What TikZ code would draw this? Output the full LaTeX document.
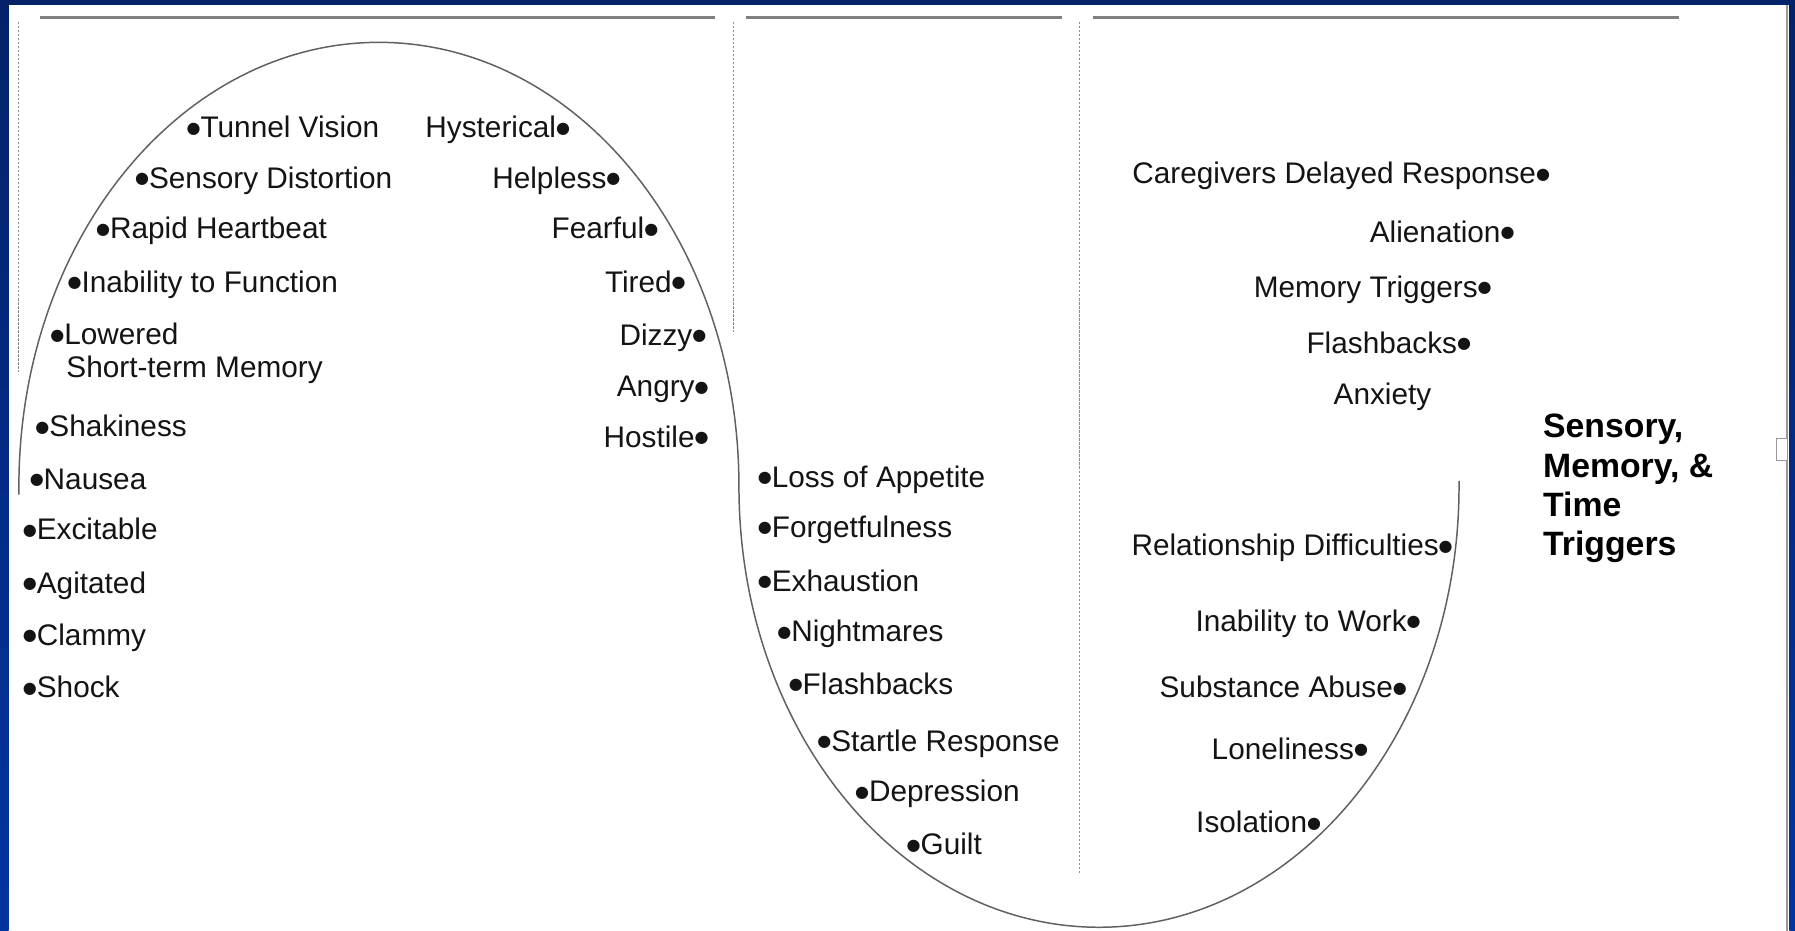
\documentclass[tikz,border=0pt]{standalone}
\usepackage{fontspec}
\setmainfont{Liberation Sans}
\newfontfamily\dejavu{DejaVu Sans}
\newcommand\bdot{\raisebox{4pt}{\dejavu\fontsize{14}{14}\selectfont ●}}
\definecolor{navyband}{RGB}{4,34,104}
\definecolor{blueband}{RGB}{2,52,160}
\begin{document}
\begin{tikzpicture}[x=1pt,y=-1pt,
  lab/.style={font=\fontsize{26}{28}\selectfont, inner sep=0pt, outer sep=0pt, text=black!92},
  bl/.style={lab, anchor=base west},
  br/.style={lab, anchor=base east},
  wave/.style={draw=black!62, line width=1.3pt},
  toprule/.style={draw=black!50, line width=2.4pt},
  guide/.style={draw=black!45, line width=0.7pt, dash pattern=on 2pt off 1.5pt},
  title/.style={font=\fontsize{29.5}{34.3}\selectfont\bfseries, inner sep=0pt, outer sep=0pt, align=left, anchor=north west}]
\useasboundingbox (0,0) rectangle (1568,813);
% frame
\fill[white] (0,0) rectangle (1568,813);
\shade[top color=navyband, bottom color=blueband] (0,0) rectangle (7.5,813);
\shade[top color=navyband, bottom color=blueband] (1563,0) rectangle (1568,813);
\fill[navyband] (0,0) rectangle (1568,4.5);
\draw[black!40, line width=1pt] (1561,4.5) -- (1561,813);
\draw[black!40, line width=0.8pt, fill=white] (1552,383) rectangle (1561,402);
% top rules
\draw[toprule] (35,15) -- (625,15);
\draw[toprule] (652,15) -- (928,15);
\draw[toprule] (955,15) -- (1467,15);
% dashed guides
\draw[guide] (16,19) -- (16,325);
\draw[guide] (641,19) -- (641,290);
\draw[guide] (943,19) -- (943,763);
% wave
\draw[wave] (16.5,432) -- (16.5,425) arc[start angle=180, end angle=0, x radius=314.5pt, y radius=388pt]
  arc[start angle=180, end angle=360, x radius=314.5pt, y radius=385pt] -- (1274.5,420);
% left column (bullet left)
\node[bl] (tv) at (163,120.5) {\bdot Tunnel Vision};
\node[bl] (sd) at (118,164.5) {\bdot Sensory Distortion};
\node[bl] (rh) at (84,208.5) {\bdot Rapid Heartbeat};
\node[bl] (if) at (59,255.5) {\bdot Inability to Function};
\node[lab, anchor=north west, align=left, font=\fontsize{26}{28}\selectfont] (lw) at (44,282.5) {\bdot Lowered\\\hspace*{14pt}Short-term Memory};
\node[bl] (sh) at (31,381.5) {\bdot Shakiness};
\node[bl] (na) at (26,427.5) {\bdot Nausea};
\node[bl] (ex) at (20,471.5) {\bdot Excitable};
\node[bl] (ag) at (20,518.5) {\bdot Agitated};
\node[bl] (cl) at (20,563.5) {\bdot Clammy};
\node[bl] (sk) at (20,609.5) {\bdot Shock};
% right side of arch (bullet right)
\node[br] (hy) at (498,120.5) {Hysterical\bdot};
\node[br] (hp) at (542,164.5) {Helpless\bdot};
\node[br] (fe) at (575,208.5) {Fearful\bdot};
\node[br] (ti) at (599,255.5) {Tired\bdot};
\node[br] (dz) at (617,301.5) {Dizzy\bdot};
\node[br] (an) at (619,346.5) {Angry\bdot};
\node[br] (ho) at (619,390.5) {Hostile\bdot};
% middle column
\node[bl] (la) at (662,425.5) {\bdot Loss of Appetite};
\node[bl] (fg) at (662,469.5) {\bdot Forgetfulness};
\node[bl] (eh) at (662,516.5) {\bdot Exhaustion};
\node[bl] (nm) at (679,560.5) {\bdot Nightmares};
\node[bl] (fb) at (689,606.5) {\bdot Flashbacks};
\node[bl] (sr) at (714,656.5) {\bdot Startle Response};
\node[bl] (dp) at (747,700.5) {\bdot Depression};
\node[bl] (gu) at (792,746.5) {\bdot Guilt};
% right upper
\node[br] (cd) at (1354,160.5) {Caregivers Delayed Response\bdot};
\node[br] (al) at (1323,211.5) {Alienation\bdot};
\node[br] (mt) at (1303,259.5) {Memory Triggers\bdot};
\node[br] (fr) at (1285,308.5) {Flashbacks\bdot};
\node[bl] (ax) at (1165,353.5) {Anxiety};
% right lower
\node[br] (rd) at (1269,485.5) {Relationship Difficulties\bdot};
\node[br] (iw) at (1241,551.5) {Inability to Work\bdot};
\node[br] (sa) at (1229,609.5) {Substance Abuse\bdot};
\node[br] (lo) at (1195,663.5) {Loneliness\bdot};
\node[br] (is) at (1154,727.5) {Isolation\bdot};
% title
\node[title] (tt) at (1348,362) {Sensory,\\Memory, \&\\Time\\Triggers};
\end{tikzpicture}
\end{document}
